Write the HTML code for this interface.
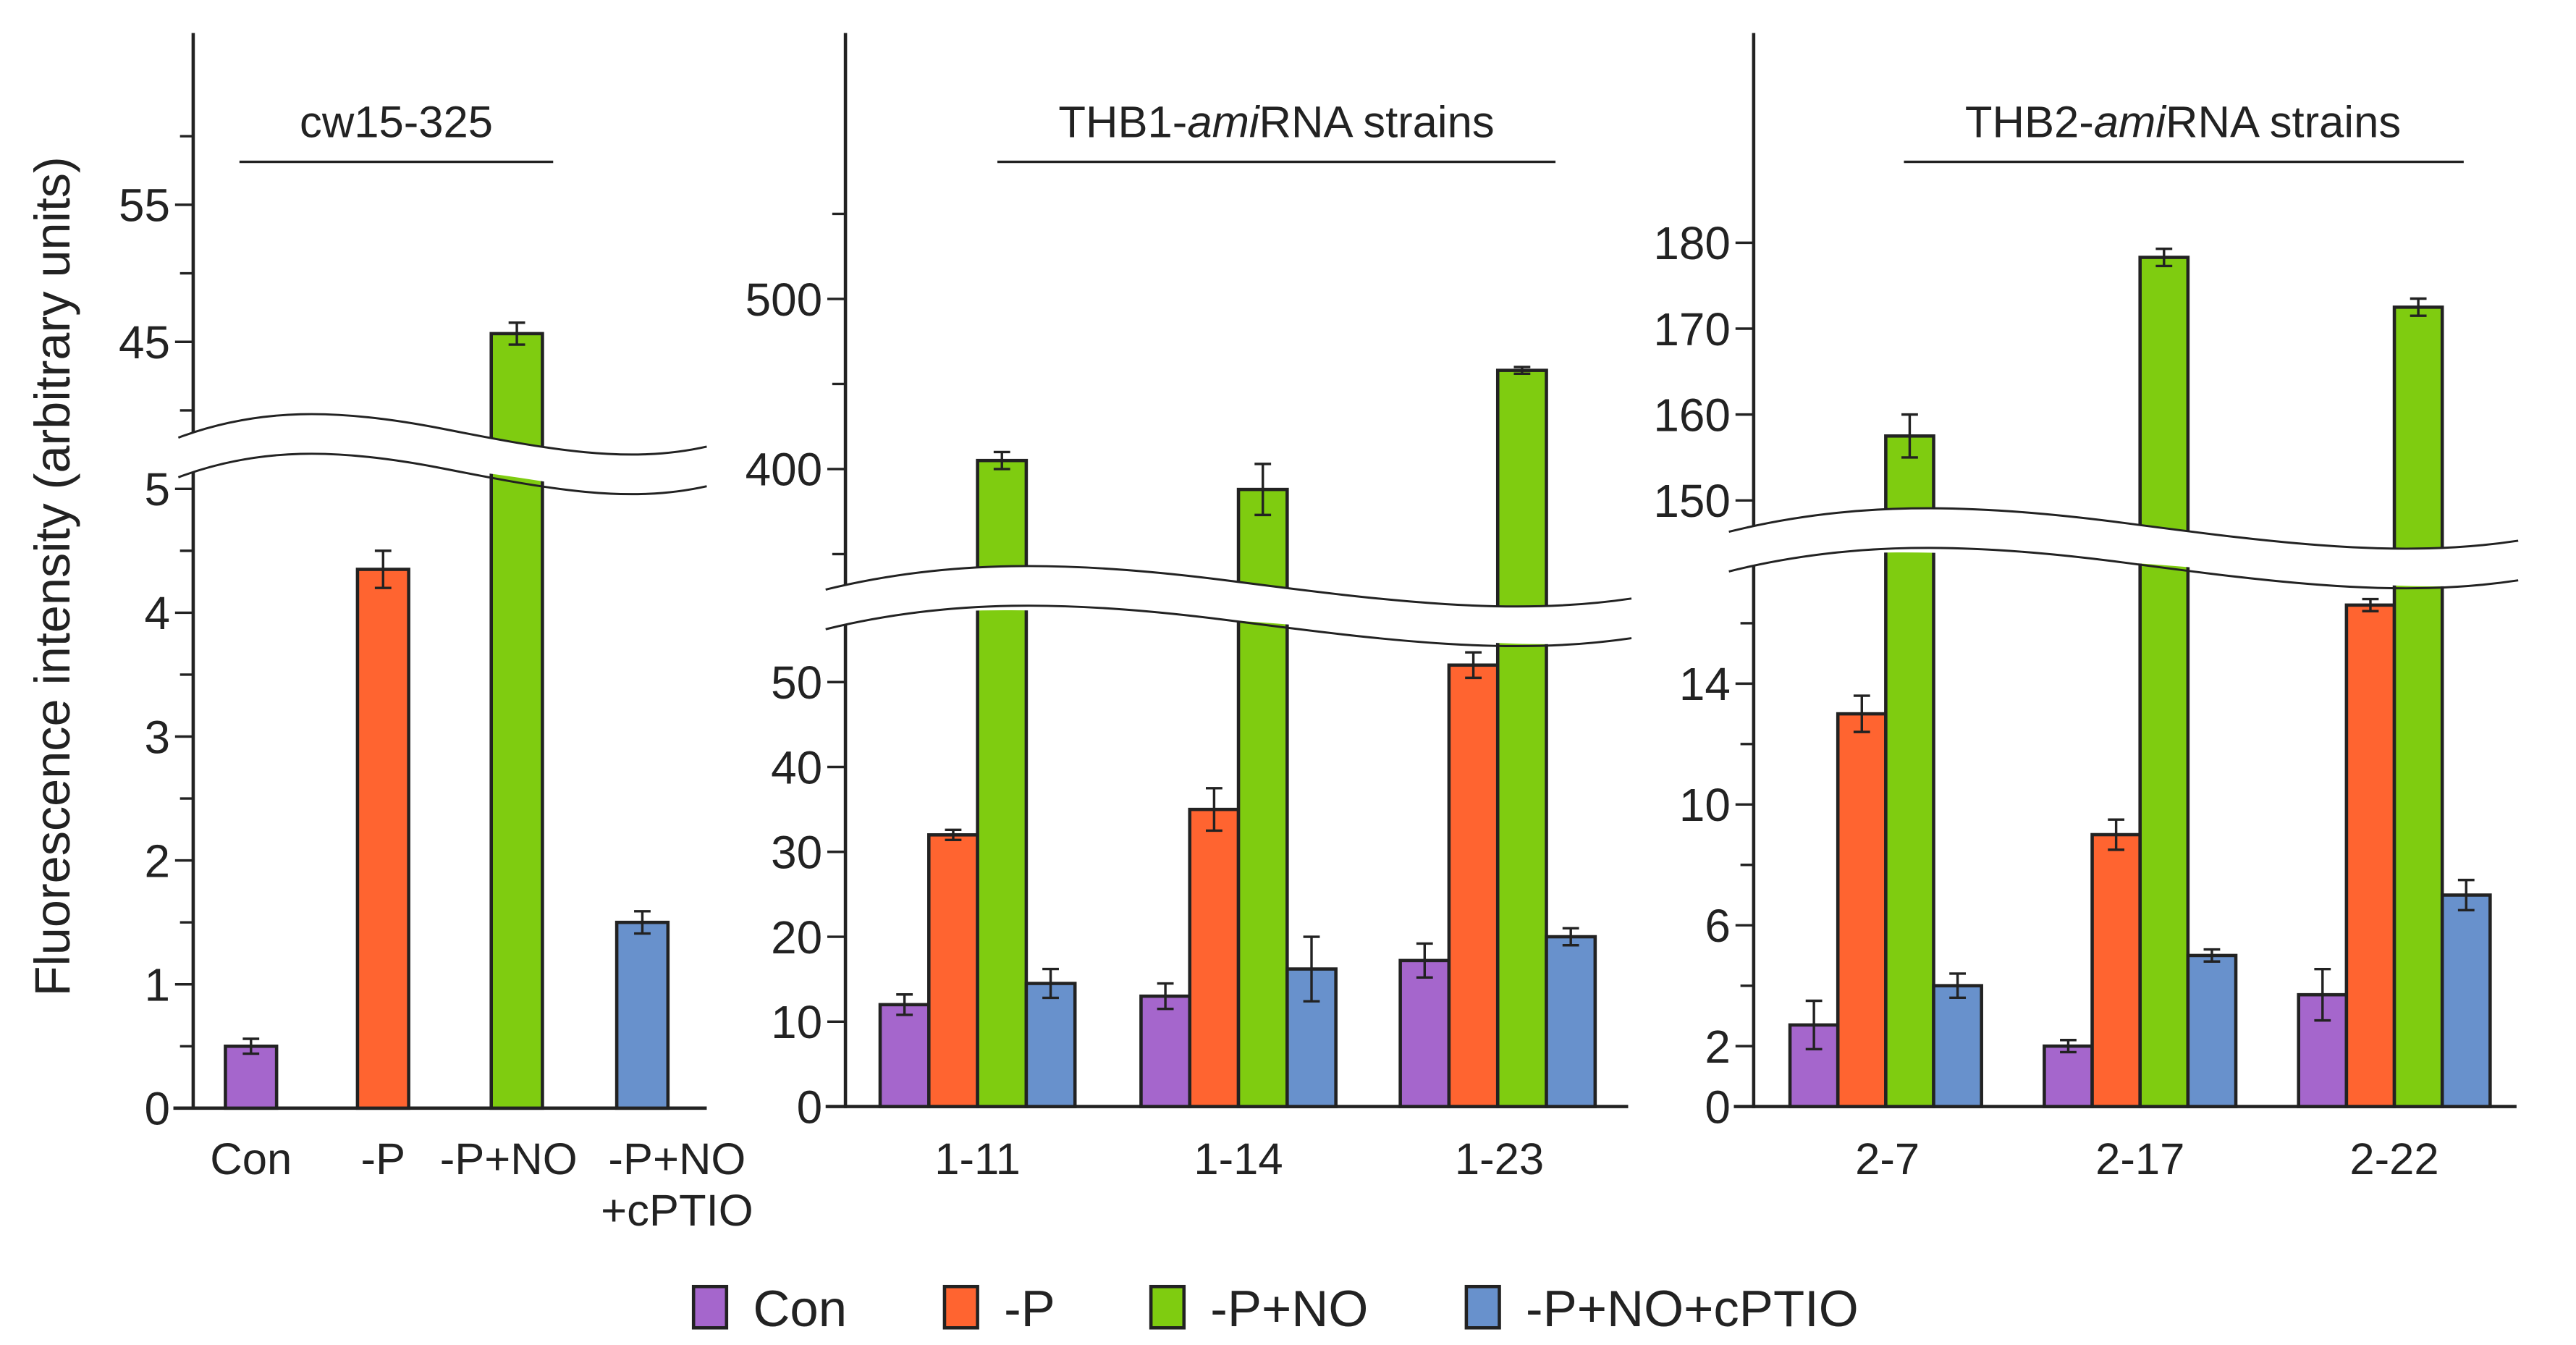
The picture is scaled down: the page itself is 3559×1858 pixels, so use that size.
<!DOCTYPE html>
<html><head><meta charset="utf-8"><style>
html,body{margin:0;padding:0;background:#fff;}
svg{display:block;}
text{font-family:"Liberation Sans",sans-serif;fill:#222;}
</style></head><body>
<svg id="chart" width="3559" height="1858" viewBox="0 0 1560 814.4" preserveAspectRatio="none" xmlns="http://www.w3.org/2000/svg">
<text x="0" y="0" transform="translate(42,349) rotate(-90)" text-anchor="middle" font-size="30">Fluorescence intensity (arbitrary units)</text>
<g id="layer"></g>
</svg>
<script>
// ---- data ----
const p1Categories = ["Con","-P","-P+NO","-P+NO\n+cPTIO"];
const p1Values = [0.5, 4.35, 45.6, 1.5];
const p1Errors = [0.06, 0.15, 0.8, 0.09];
const p2Groups = ["1-11","1-14","1-23"];
const p2Con = [12, 13, 17.2];
const p2P = [32, 35, 52];
const p2PNO = [405, 388, 458];
const p2Cptio = [14.5, 16.2, 20];
const p2ConErr = [1.2, 1.5, 2];
const p2PErr = [0.6, 2.5, 1.5];
const p2PNOErr = [5, 15, 2];
const p2CptioErr = [1.7, 3.8, 1];
const p3Groups = ["2-7","2-17","2-22"];
const p3Con = [2.7, 2.0, 3.7];
const p3P = [13, 9, 16.6];
const p3PNO = [157.5, 178.3, 172.5];
const p3Cptio = [4, 5, 7];
const p3ConErr = [0.8, 0.2, 0.85];
const p3PErr = [0.6, 0.5, 0.2];
const p3PNOErr = [2.5, 1, 1];
const p3CptioErr = [0.4, 0.2, 0.5];
const p1LowTicks = [0,1,2,3,4,5];
const p1HighTicks = [45,55];
const p2LowTicks = [0,10,20,30,40,50];
const p2HighTicks = [400,500];
const p3LowTicks = [0,2,6,10,14];
const p3HighTicks = [150,160,170,180];
const seriesNames = ["Con","-P","-P+NO","-P+NO+cPTIO"];
const seriesColors = ["#a566cc","#ff6430","#7fcc10","#6891cc"];

const NS="http://www.w3.org/2000/svg";
const layer=document.getElementById('layer');
function mk(tag,attrs,parent){const e=document.createElementNS(NS,tag);for(const k in attrs)e.setAttribute(k,attrs[k]);(parent||layer).appendChild(e);return e;}

function y1(v){return v<=10?671-75*v:207-(v-45)*8.3;}
function y2(v){return v<=100?670-5.14*v:284-(v-400)*1.03;}
function y3(v){return v<=30?670-18.29*v:303-(v-150)*5.2;}

function drawAxis(ax,xEnd,ys,low,high,lowMinor,highMinor,name){
  const g=mk('g',{});
  
  
  mk('line',{x1:ax,y1:20,x2:ax,y2:671,stroke:'#222','stroke-width':2},g);
  mk('line',{x1:ax-12,y1:ys(0),x2:xEnd,y2:ys(0),stroke:'#222','stroke-width':2},g);
  low.concat(high).forEach(t=>{
    mk('line',{x1:ax-11,y1:ys(t),x2:ax,y2:ys(t),stroke:'#222','stroke-width':1.5},g);
    const tx=mk('text',{x:ax-14,y:ys(t)+10,'text-anchor':'end','font-size':28},g);
    tx.textContent=t;
    
    
  });
  lowMinor.concat(highMinor).forEach(t=>{
    mk('line',{x1:ax-8,y1:ys(t),x2:ax,y2:ys(t),stroke:'#222','stroke-width':1.5},g);
  });
}
drawAxis(117,428,y1,p1LowTicks,p1HighTicks,[0.5,1.5,2.5,3.5,4.5],[40,50,60],'axis-cw15');
drawAxis(512,986,y2,p2LowTicks,p2HighTicks,[],[350,450,550],'axis-thb1');
drawAxis(1062,1524,y3,p3LowTicks,p3HighTicks,[4,8,12,16],[],'axis-thb2');

function bar(x,w,v,e,color,ys,name){
  const top=ys(v),base=ys(0);
  const r=mk('rect',{x:x,y:top,width:w,height:base-top,fill:color,stroke:'#222','stroke-width':2});
  
  
  const cx=x+w/2,ya=ys(v+e),yb=ys(v-e);
  const eb=mk('path',{d:`M${cx},${ya}V${yb}M${cx-5},${ya}H${cx+5}M${cx-5},${yb}H${cx+5}`,stroke:'#222','stroke-width':1.5,fill:'none'});
  
  
}

const p1Centers=[152,232,313,389];
p1Values.forEach((v,i)=>{bar(p1Centers[i]-15.5,31,v,p1Errors[i],seriesColors[i],y1,'bar-cw15-'+i);});
function groups(starts,w,arrs,errs,ys,prefix){
  starts.forEach((s,gi)=>{
    arrs.forEach((arr,si)=>{bar(s+si*w,w,arr[gi],errs[si][gi],seriesColors[si],ys,prefix+'-'+gi+'-'+si);});
  });
}
groups([533,691,848],29.5,[p2Con,p2P,p2PNO,p2Cptio],[p2ConErr,p2PErr,p2PNOErr,p2CptioErr],y2,'bar-thb1');
groups([1084,1238,1392],29,[p3Con,p3P,p3PNO,p3Cptio],[p3ConErr,p3PErr,p3PNOErr,p3CptioErr],y3,'bar-thb2');

function brk(x0,x1,yL,amp,name){
  const w=x1-x0,th=24;
  const c=(o)=>`M${x0},${yL+o} C${x0+w*0.15},${yL-amp+o} ${x0+w*0.3},${yL-amp+o} ${x0+w*0.5},${yL+o-amp*0.3} S${x0+w*0.85},${yL+amp*0.9+o} ${x1},${yL+amp*0.3+o}`;
  const band=mk('path',{d:c(0)+` L${x1},${yL+amp*0.3+th} `+
    `C${x0+w*0.85},${yL+amp*0.9+th} ${x0+w*0.7},${yL+th} ${x0+w*0.5},${yL+th-amp*0.3} S${x0+w*0.15},${yL-amp+th} ${x0},${yL+th} Z`,fill:'#fff',stroke:'none'});
  
  
  mk('path',{d:c(0),fill:'none',stroke:'#222','stroke-width':1.3});
  mk('path',{d:c(th),fill:'none',stroke:'#222','stroke-width':1.3});
}
brk(108,428,265,18,'axis-break-cw15');
brk(500,988,357,18,'axis-break-thb1');
brk(1047,1525,322,18,'axis-break-thb2');

function lab(x,y,t,name,size){const e=mk('text',{x:x,y:y,'text-anchor':'middle','font-size':size||27});e.textContent=t;}
const p1LabX=[152,232,308,410];
p1Categories.forEach((c,i)=>{c.split('\n').forEach((ln,j)=>lab(p1LabX[i],711+j*31,ln,'x-label-cw15'));});
[592,750,908].forEach((x,i)=>lab(x,711,p2Groups[i],'x-label-thb1'));
[1143,1296,1450].forEach((x,i)=>lab(x,711,p3Groups[i],'x-label-thb2'));

function header(cx,x0,x1,html,name){
  const t=mk('text',{x:cx,y:83,'text-anchor':'middle','font-size':27});
  t.innerHTML=html;
  
  
  mk('line',{x1:x0,y1:98,x2:x1,y2:98,stroke:'#222','stroke-width':1.5});
}
header(240,145,335,'cw15-325','header-cw15');
header(773,604,942,'THB1-<tspan font-style="italic">ami</tspan>RNA strains','header-thb1');
header(1322,1153,1492,'THB2-<tspan font-style="italic">ami</tspan>RNA strains','header-thb2');

const legSq=[420,572,697,888];
seriesNames.forEach((n,i)=>{
  const g=mk('g',{});
  
  
  mk('rect',{x:legSq[i],y:779,width:20,height:25,fill:seriesColors[i],stroke:'#222','stroke-width':2},g);
  const t=mk('text',{x:legSq[i]+36,y:803,'font-size':31},g);
  t.textContent=n;
});
</script>
</body></html>
